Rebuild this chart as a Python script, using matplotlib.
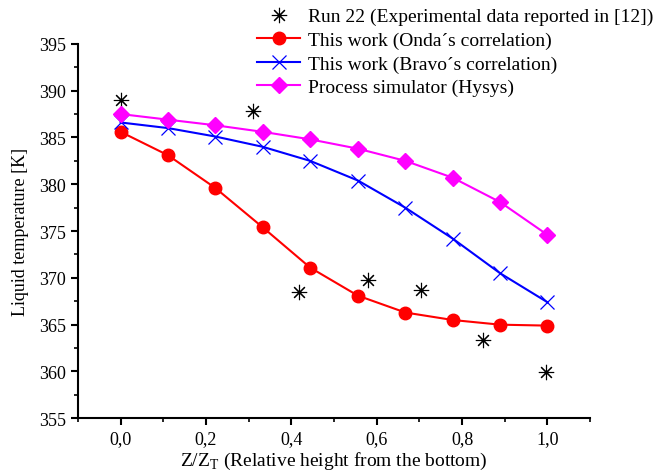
import matplotlib
matplotlib.use("Agg")
import matplotlib.pyplot as plt
from matplotlib.ticker import MultipleLocator, FuncFormatter

plt.rcParams['font.family'] = ['Liberation Serif', 'DejaVu Serif']
plt.rcParams['mathtext.fontset'] = 'custom'
plt.rcParams['mathtext.rm'] = 'Liberation Serif'

# Data
z_model = [0.0, 0.111, 0.222, 0.333, 0.444, 0.556, 0.667, 0.778, 0.889, 1.0]
onda = [385.6, 383.1, 379.6, 375.4, 371.1, 368.1, 366.3, 365.5, 365.0, 364.9]
bravo = [386.6, 386.0, 385.1, 384.0, 382.5, 380.4, 377.5, 374.2, 370.5, 367.4]
hysys = [387.5, 386.9, 386.3, 385.6, 384.8, 383.8, 382.5, 380.7, 378.1, 374.6]
z_exp = [0.0, 0.31, 0.419, 0.579, 0.704, 0.848, 0.997]
t_exp = [389.0, 387.8, 368.5, 369.8, 368.7, 363.4, 359.9]

labels = ["Run 22 (Experimental data reported in [12])",
          "This work (Onda\u00b4s correlation)",
          "This work (Bravo\u00b4s correlation)",
          "Process simulator (Hysys)"]

fig = plt.figure(figsize=(6.66, 4.77), dpi=100)
ax = fig.add_axes([0.117, 0.121, 0.769, 0.785])

ax.plot(z_exp, t_exp, linestyle='none', marker=(8, 2, 0), markersize=11,
        color='black', markeredgewidth=0.8, label=labels[0])
ax.plot(z_model, onda, color='red', linewidth=1.5, marker='o', markersize=9,
        markerfacecolor='red', markeredgecolor='red', label=labels[1])
ax.plot(z_model, bravo, color='blue', linewidth=1.5, marker='x', markersize=10,
        markeredgewidth=0.9, markeredgecolor='blue', label=labels[2])
ax.plot(z_model, hysys, color='magenta', linewidth=1.5, marker='D', markersize=8.5,
        markerfacecolor='magenta', markeredgecolor='magenta', label=labels[3])

ax.set_xlim(-0.1, 1.1)
ax.set_ylim(355, 395)
ax.xaxis.set_major_locator(MultipleLocator(0.2))
ax.xaxis.set_minor_locator(MultipleLocator(0.1))
ax.yaxis.set_major_locator(MultipleLocator(5))
ax.yaxis.set_minor_locator(MultipleLocator(2.5))
ax.xaxis.set_major_formatter(FuncFormatter(lambda v, p: f"{v:.1f}".replace('.', ',')))
ax.yaxis.set_major_formatter(FuncFormatter(lambda v, p: f"{v:.0f}"))

for s in ['top', 'right']:
    ax.spines[s].set_visible(False)
for s in ['left', 'bottom']:
    ax.spines[s].set_linewidth(1.5)
ax.tick_params(which='major', direction='out', length=5, width=1.5, labelsize=13)
ax.tick_params(which='minor', direction='out', length=3, width=1.2)

ax.set_ylabel("Liquid temperature [K]", fontsize=13)
ax.yaxis.set_label_coords(-0.095, 0.5)
ax.set_xlabel("Z/Z$_\\mathregular{T}$ (Relative height from the bottom)", fontsize=14,
              labelpad=2)

leg = fig.legend(loc='upper right', bbox_to_anchor=(1.0, 1.008), frameon=False,
                 fontsize=14, handlelength=2.2, handletextpad=0.4, labelspacing=0.3,
                 borderpad=0.15)

fig.savefig("out.png", dpi=100)
